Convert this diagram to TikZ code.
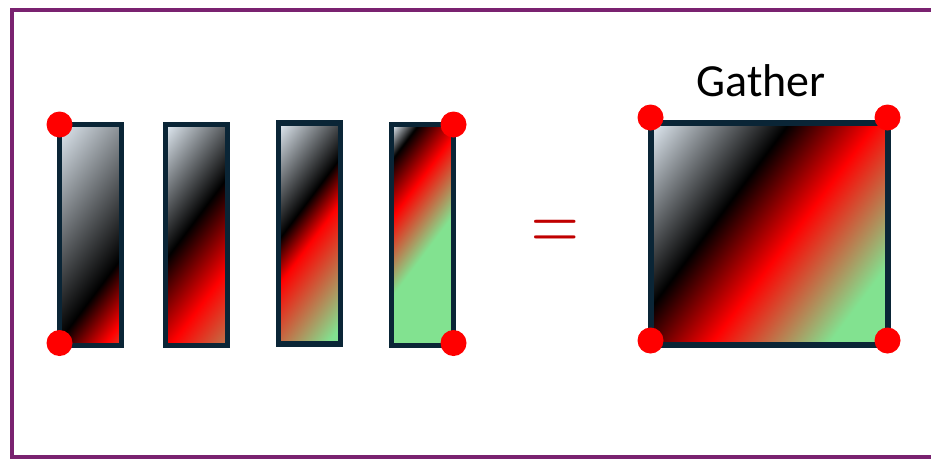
\documentclass[tikz,border=0pt]{standalone}
\usepackage{fontspec}
\newfontfamily\gatherfont{Carlito}
\usetikzlibrary{positioning}

\definecolor{framepurple}{RGB}{122,34,112}
\definecolor{edgenavy}{RGB}{10,37,54}
\definecolor{glight}{RGB}{222,231,239}
\definecolor{gred}{RGB}{255,0,0}
\definecolor{ggreen}{RGB}{130,226,144}
\definecolor{eqred}{RGB}{192,0,0}

% light -> black -> red -> green, stop positions in bp
\newcommand{\gradfill}[4]{%
  \pgfdeclarehorizontalshading{#1}{100bp}{color(0bp)=(glight); color(37.8bp)=(glight);
    color(#2bp)=(black); color(#3bp)=(gred); color(#4bp)=(ggreen); color(100bp)=(ggreen)}}
\gradfill{gstripA}{55.25}{60.5}{67.7}
\gradfill{gstripB}{48.6}{56.2}{67.9}
\gradfill{gstripC}{47.1}{50.8}{61}
\gradfill{gstripD}{40.45}{45.2}{51.7}
\gradfill{gsquare}{46.1}{51.5}{58.8}

\begin{document}
\begin{tikzpicture}[x=1pt, y=-1pt,
    gbox/.style 2 args={draw=edgenavy, line width=5.5pt, inner sep=0pt, outer sep=0pt,
      minimum width=62pt, minimum height=221pt,
      path picture={\shade[shading=#1,
        transform canvas={rotate around={-36.87:(path picture bounding box.center)}}]
        ([shift={(-#2,-#2)}]path picture bounding box.center) rectangle
        ([shift={(#2,#2)}]path picture bounding box.center);}},
    cdot/.style={circle, fill=red, minimum size=26pt, inner sep=0pt}]
    \useasboundingbox (0,0) rectangle (931,459);
    \draw[framepurple, line width=4.5pt] (12,10) rectangle (960,457);
    % the four strips
    \node[gbox={gstripA}{182.2}] (s1) at (90.5,235) {};
    \node[gbox={gstripB}{182.2}] (s2) at (196.5,235) {};
    \node[gbox={gstripC}{182.2}] (s3) at (309.5,233.5) {};
    \node[gbox={gstripD}{182.2}] (s4) at (422.5,235) {};
    % gathered block
    \node[gbox={gsquare}{322.8}, minimum width=237pt, minimum height=222pt,
        line width=6pt] (sq) at (769,233.5) {};
    \node[font=\gatherfont\fontsize{46}{46}\selectfont, anchor=base] (lbl) at (761,96.5) {Gather};
    \node[text=eqred, yscale=1.33, font=\fontsize{66}{66}\selectfont, anchor=base] (eq) at (555,251.5) {=};
    % corner dots
    \node[cdot] (c1) at (s1.north west) {};
    \node[cdot] (c2) at ([yshift=2.5pt]s1.south west) {};
    \node[cdot] (c3) at (s4.north east) {};
    \node[cdot] (c4) at ([yshift=2.5pt]s4.south east) {};
    \node[cdot] (c5) at ([yshift=5pt]sq.north west) {};
    \node[cdot] (c6) at ([yshift=5pt]sq.north east) {};
    \node[cdot] (c7) at ([yshift=4pt]sq.south west) {};
    \node[cdot] (c8) at ([yshift=4pt]sq.south east) {};
\end{tikzpicture}
\end{document}
